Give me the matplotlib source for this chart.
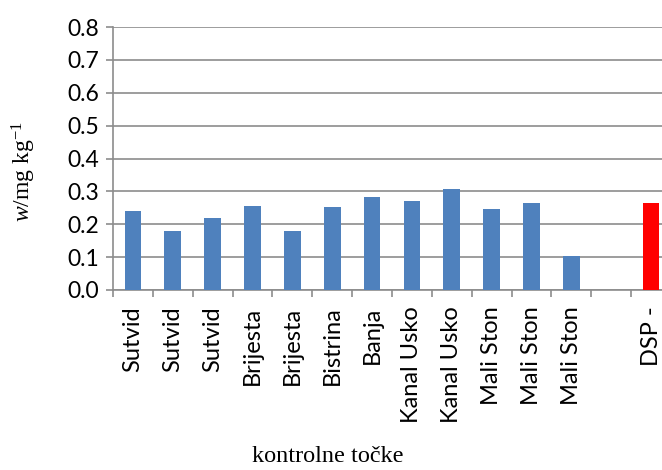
import matplotlib
matplotlib.use("Agg")
import matplotlib.pyplot as plt
import numpy as np

plt.rcParams["mathtext.fontset"] = "custom"
plt.rcParams["mathtext.rm"] = "Liberation Serif"
plt.rcParams["mathtext.it"] = "Liberation Serif:italic"

categories = ["Sutvid", "Sutvid", "Sutvid", "Brijesta", "Brijesta", "Bistrina", "Banja",
              "Kanal Usko", "Kanal Usko", "Mali Ston", "Mali Ston", "Mali Ston", "", "DSP -"]
values = [0.240, 0.178, 0.220, 0.254, 0.180, 0.252, 0.284,
          0.270, 0.308, 0.247, 0.265, 0.102, np.nan, 0.266]
bar_colors = ["#4F81BD"] * 13 + ["#FF0000"]
yticks = [0.0, 0.1, 0.2, 0.3, 0.4, 0.5, 0.6, 0.7, 0.8]

fig = plt.figure(figsize=(6.62, 4.70), dpi=100)
ax = fig.add_axes([113/662, (470-290)/470, (671-113)/662, (290-27)/470])

x = np.arange(len(categories))
ax.bar(x, values, width=0.42, color=bar_colors, edgecolor="none", zorder=3)

ax.set_xlim(-0.5, len(categories) - 0.5)
ax.set_ylim(0, 0.8)
ax.set_yticks(yticks)
ax.set_yticklabels([f"{v:.1f}" for v in yticks], fontfamily="Lato", fontsize=16.5)
ax.yaxis.grid(True, color="#8c8c8c", linewidth=1.2, zorder=0)
ax.set_axisbelow(True)

ax.set_xticks(x)
ax.set_xticklabels(categories, rotation=90, fontfamily="Lato", fontsize=17, va="top")
ax.set_xticks(np.arange(len(categories) + 1) - 0.5, minor=True)
ax.tick_params(axis="x", which="major", length=0, pad=12)
ax.tick_params(axis="x", which="minor", length=5, color="#8c8c8c", width=1.2)
ax.tick_params(axis="y", length=5, color="#8c8c8c", width=1.2, pad=5)

for s in ["top", "right"]:
    ax.spines[s].set_visible(False)
for s in ["left", "bottom"]:
    ax.spines[s].set_color("#8c8c8c")
    ax.spines[s].set_linewidth(1.2)

fig.text(0.036, 1 - 172/470, r"$\mathit{w}$/mg kg$^{\mathregular{-1}}$", rotation=90,
         ha="center", va="center", fontfamily="Liberation Serif", fontsize=17)
fig.text(328/662, 1 - 457/470, "kontrolne točke", ha="center", va="center",
         fontfamily="Liberation Serif", fontsize=17.5)

fig.savefig("out.png", dpi=100)
